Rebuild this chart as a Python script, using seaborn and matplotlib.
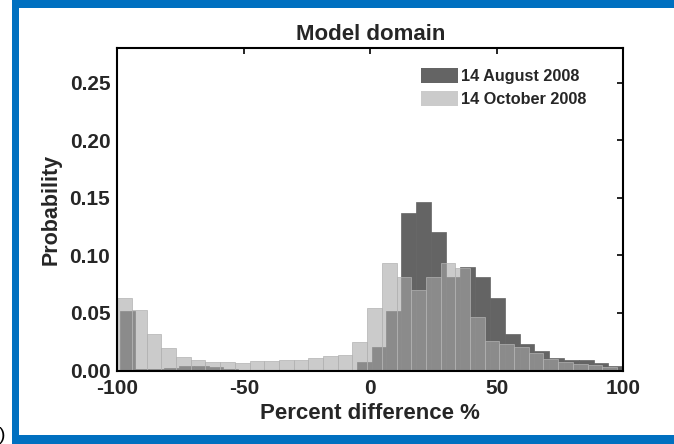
import numpy as np
import pandas as pd
import matplotlib
matplotlib.use("Agg")
import matplotlib.pyplot as plt
import seaborn as sns
from matplotlib.patches import Patch, Rectangle

# Probability per bin (34 equal-width bins for each date)
aug_prob = [0.052, 0.001, 0.001, 0.002, 0.004, 0.004, 0.003, 0.001,
            0.0, 0.0, 0.0, 0.0, 0.0, 0.0, 0.0, 0.0,
            0.007, 0.020, 0.0516, 0.137, 0.1465, 0.120, 0.081, 0.090,
            0.081, 0.063, 0.0315, 0.023, 0.017, 0.011, 0.009, 0.009,
            0.0065, 0.004]
oct_prob = [0.0626, 0.0524, 0.0316, 0.0197, 0.0113, 0.0090, 0.0070, 0.0070,
            0.0063, 0.0081, 0.0081, 0.0087, 0.0087, 0.0110, 0.0125, 0.0136,
            0.0245, 0.0540, 0.0935, 0.0810, 0.0700, 0.0810, 0.0935, 0.0890,
            0.0466, 0.0260, 0.0230, 0.0200, 0.0150, 0.0100, 0.0070, 0.0060,
            0.0050, 0.0030]
aug_range = (-99.0, 100.0)
oct_range = (-100.0, 97.5)
n_bins = 34

series_labels = ["14 August 2008", "14 October 2008"]
x_ticks = [-100, -50, 0, 50, 100]
y_ticks = [0.00, 0.05, 0.10, 0.15, 0.20, 0.25]

sns.set_style("white")
plt.rcParams["font.family"] = ["Liberation Sans", "DejaVu Sans"]
plt.rcParams["font.weight"] = "bold"
plt.rcParams["axes.unicode_minus"] = False

W, H = 674, 444
fig = plt.figure(figsize=(W / 100, H / 100), dpi=100)
fig.patch.set_facecolor("white")
ax = fig.add_axes([117.3 / W, 1 - 370.5 / H, 506 / W, 322.2 / H])

dark = "#646464"
light = "#a8a8a8"
light_alpha = 0.59


def draw_hist(prob, rng, color, alpha, edge):
    edges = np.linspace(rng[0], rng[1], n_bins + 1)
    frame = pd.DataFrame({"pct": 0.5 * (edges[:-1] + edges[1:]),
                          "prob": prob})
    sns.histplot(data=frame, x="pct", weights="prob", bins=edges.tolist(),
                 stat="count", color=color, alpha=alpha, edgecolor=edge,
                 linewidth=0.5, ax=ax)


draw_hist(aug_prob, aug_range, dark, 1.0, dark)
draw_hist(oct_prob, oct_range, light, light_alpha, "#b2b2b2")

ax.set_xlim(-100, 100)
ax.set_ylim(0, 0.28)
ax.set_xticks(x_ticks)
ax.set_yticks(y_ticks)
ax.set_xticklabels([str(t) for t in x_ticks])
ax.set_yticklabels([f"{t:.2f}" for t in y_ticks])
ax.tick_params(direction="in", top=True, right=True, length=4.5, width=1.2,
               labelsize=15, color="black")
ax.tick_params(axis="x", pad=6)
ax.tick_params(axis="y", pad=5)
for s in ax.spines.values():
    s.set_linewidth(1.5)
    s.set_color("black")

ax.set_title("Model domain", fontsize=16, fontweight="bold", pad=6)
ax.set_xlabel("Percent difference %", fontsize=16, fontweight="bold", labelpad=4)
ax.set_ylabel("Probability", fontsize=15.5, fontweight="bold", labelpad=6)

handles = [Patch(facecolor=dark, edgecolor="none"),
           Patch(facecolor=light, alpha=light_alpha, edgecolor="none")]
ax.legend(handles, series_labels, loc="upper left",
          bbox_to_anchor=(0.5996, 0.94), frameon=False,
          handlelength=2.3, handleheight=1.05, handletextpad=0.15,
          labelspacing=0.42, borderpad=0, borderaxespad=0,
          prop={"weight": "bold", "size": 11.7})

# blue surround
blue = "#0070c0"


def band(x0, y0, x1, y1):
    fig.add_artist(Rectangle((x0 / W, 1 - y1 / H), (x1 - x0) / W, (y1 - y0) / H,
                             transform=fig.transFigure, color=blue, lw=0))


band(12, 0, 674, 8.3)
band(12, 435, 674, 444)
band(12, 0, 19.3, 444)

fig.text(5 / W, 1 - 444 / H, ")", ha="right", va="bottom", fontsize=14,
         color="black", fontweight="normal")

fig.savefig("out.png", dpi=100, facecolor="white")
